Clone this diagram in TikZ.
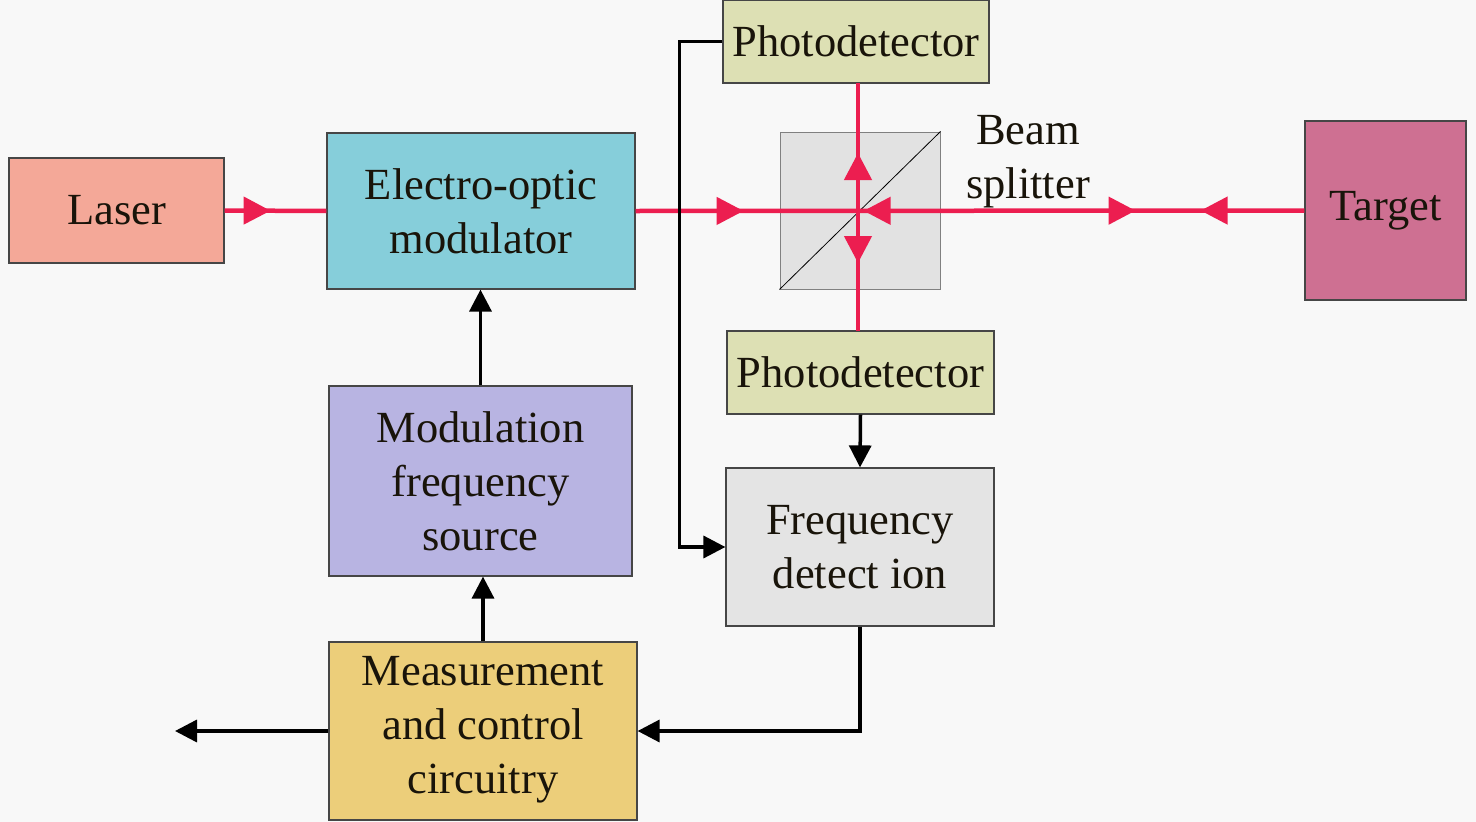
\documentclass[tikz,border=0pt]{standalone}
\usepackage{fontspec}
\setmainfont{Liberation Serif}
\usetikzlibrary{arrows.meta,decorations.markings}
\definecolor{bgc}{RGB}{248,248,248}
\definecolor{laserc}{RGB}{244,168,152}
\definecolor{eomc}{RGB}{134,206,218}
\definecolor{mfsc}{RGB}{184,180,226}
\definecolor{mccc}{RGB}{236,206,122}
\definecolor{pdc}{RGB}{221,224,180}
\definecolor{bsc}{RGB}{226,226,226}
\definecolor{fdc}{RGB}{228,228,228}
\definecolor{targetc}{RGB}{206,112,146}
\definecolor{beamc}{RGB}{236,30,80}
\definecolor{edgec}{RGB}{70,70,70}
\definecolor{txtc}{RGB}{25,20,10}
\tikzset{rt/.tip={Triangle[length=27pt,width=27pt]}}
\begin{document}
\begin{tikzpicture}[x=1pt,y=-1pt,
  box/.style={draw=edgec,line width=1.2pt,inner sep=0pt,align=center,text=txtc,
    font=\fontsize{44.5}{54}\selectfont},
  wire/.style={line width=3.5pt,black,-{Triangle[length=22pt,width=22pt]}},
  beam/.style={line width=4.5pt,beamc}
]
\useasboundingbox[fill=bgc] (0,0) rectangle (1476,822);
% boxes
\node[box,fill=laserc,minimum width=215pt,minimum height=105pt] (laser) at (116.5,210.5) {Laser};
\node[box,fill=eomc,minimum width=308pt,minimum height=156pt] (eom) at (481,211) {Electro-optic\\modulator};
\node[box,fill=mfsc,minimum width=303pt,minimum height=190pt] (mfs) at (480.5,481) {Modulation\\frequency\\source};
\node[box,fill=mccc,minimum width=308pt,minimum height=178pt,text depth=12pt] (mcc) at (483,731) {Measurement\\and control\\circuitry};
\node[box,fill=pdc,minimum width=266pt,minimum height=83pt] (pdt) at (856,41.5) {Photodetector};
\node[box,fill=pdc,minimum width=267pt,minimum height=83pt] (pdb) at (860.5,372.5) {Photodetector};
\node[box,fill=fdc,minimum width=268pt,minimum height=158pt] (fd) at (860,547) {Frequency\\detect ion};
\node[box,fill=targetc,minimum width=161pt,minimum height=179pt] (target) at (1385.5,210.5) {Target};
\node[draw=gray,line width=1pt,fill=bsc,minimum width=160pt,minimum height=157pt,inner sep=0pt] (bs) at (860,210.5) {};
\draw[line width=0.8pt,black] (bs.south west) -- (bs.north east);
\node[text=txtc,align=center,font=\fontsize{44.5}{54}\selectfont] (bslabel) at (1028,162) {Beam\\splitter};
% red beam
\coordinate (vt) at (858,83);
\coordinate (vb) at (858,331);
\draw[beam,postaction={decorate},decoration={markings,
  mark=at position 46pt with {\arrow{rt}}}] (laser.east) -- (eom.west);
\draw[beam,postaction={decorate},decoration={markings,
  mark=at position 108pt with {\arrow{rt}},
  mark=at position 228pt with {\arrowreversed{rt}},
  mark=at position 500pt with {\arrow{rt}},
  mark=at position 565pt with {\arrowreversed{rt}}}] (eom.east) -- (target.west);
\draw[beam,postaction={decorate},decoration={markings,
  mark=at position 70pt with {\arrowreversed{rt}},
  mark=at position 180pt with {\arrow{rt}}}] (vt) -- (vb);
% black wires
\draw[wire] (pdt.west) -- ++(-43,0) |- (fd.west);
\draw[wire] (pdb.south) -- (fd.north);
\draw[wire] (fd.south) |- (mcc.east);
\coordinate (out) at (175,731);
\draw[wire] (mcc.west) -- (out);
\draw[wire] (mcc.north) -- (mcc.north |- mfs.south);
\draw[wire] (mfs.north) -- (mfs.north |- eom.south);
\end{tikzpicture}
\end{document}
